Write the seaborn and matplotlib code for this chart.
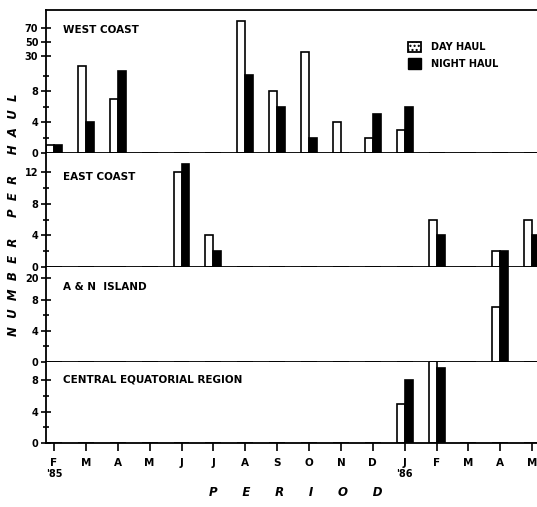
import numpy as np
import pandas as pd
import seaborn as sns
import matplotlib
matplotlib.use("Agg")
import matplotlib.pyplot as plt
from matplotlib.patches import Patch
from matplotlib.ticker import FixedLocator

# datos (numero por lance)
meses = ["F", "M", "A", "M", "J", "J", "A", "S", "O", "N", "D", "J", "F", "M", "A", "M"]
west_day = [1, 20, 7, 0, 0, 0, 80, 8, 35, 4, 2, 3, 0, 0, 0, 0]
west_night = [1, 4, 15, 0, 0, 0, 11, 6, 2, 0, 5, 6, 0, 0, 0, 0]
east_day = [0, 0, 0, 0, 12, 4, 0, 0, 0, 0, 0, 0, 6, 0, 2, 6]
east_night = [0, 0, 0, 0, 13, 2, 0, 0, 0, 0, 0, 0, 4, 0, 2, 4]
an_day = [0, 0, 0, 0, 0, 0, 0, 0, 0, 0, 0, 0, 0, 0, 7, 0]
an_night = [0, 0, 0, 0, 0, 0, 0, 0, 0, 0, 0, 0, 0, 0, 30, 0]
central_day = [0, 0, 0, 0, 0, 0, 0, 0, 0, 0, 0, 5, 12, 0, 0, 0]
central_night = [0, 0, 0, 0, 0, 0, 0, 0, 0, 0, 0, 8, 9.5, 0, 0, 0]

sns.set_style("ticks")
plt.rcParams["font.family"] = ["DejaVu Sans"]
plt.rcParams["font.weight"] = "bold"
plt.rcParams["text.color"] = "black"
plt.rcParams["xtick.color"] = "black"
plt.rcParams["ytick.color"] = "black"
plt.rcParams["axes.edgecolor"] = "black"

colores = {"DAY HAUL": "white", "NIGHT HAUL": "black"}


def tabla(dia, noche):
    n = len(meses)
    return pd.DataFrame({
        "mes": list(range(n)) * 2,
        "valor": dia + noche,
        "haul": ["DAY HAUL"] * n + ["NIGHT HAUL"] * n,
    })


def escala_rota(xp, fp):
    # eje "roto": tramo lineal y luego comprimido
    fwd = lambda v: np.interp(v, xp, fp)
    inv = lambda p: np.interp(p, fp, xp)
    return fwd, inv


paneles = [
    ("WEST COAST", west_day, west_night, 96, [0, 4, 8, 30, 50, 70], [2, 6, 10],
     ([-10, 10, 30, 70, 1000], [-10, 10, 12.6, 16.2, 16.2 + 930 * 0.09])),
    ("EAST COAST", east_day, east_night, 14.4, [0, 4, 8, 12], [2, 6, 10], None),
    ("A & N  ISLAND", an_day, an_night, 26.5, [0, 4, 8, 20], [2, 6],
     ([-10, 8, 1000], [-10, 8, 8 + 992 * 0.225])),
    ("CENTRAL EQUATORIAL REGION", central_day, central_night, 10.3, [0, 4, 8], [2, 6], None),
]

fig = plt.figure(figsize=(5.37, 5.07), dpi=100)
gs = fig.add_gridspec(4, 1, height_ratios=[143, 114, 95, 81], hspace=0,
                      left=46 / 537, right=1.0, top=1 - 10 / 507, bottom=1 - 443 / 507)

axes = []
for i, (nombre, dia, noche, ytop, mayores, menores, rota) in enumerate(paneles):
    ax = fig.add_subplot(gs[i], sharex=axes[0] if axes else None)
    axes.append(ax)
    sns.barplot(data=tabla(dia, noche), x="mes", y="valor", hue="haul",
                palette=colores, order=list(range(len(meses))), width=0.5,
                saturation=1, errorbar=None, edgecolor="black", linewidth=1.2,
                legend=False, ax=ax)
    if rota is not None:
        ax.set_yscale("function", functions=escala_rota(*rota))
    ax.set_ylim(0, ytop)
    ax.yaxis.set_major_locator(FixedLocator(mayores))
    ax.yaxis.set_minor_locator(FixedLocator(menores))
    ax.set_yticklabels([str(v) for v in mayores], fontsize=7, fontweight="bold")
    ax.tick_params(axis="y", which="major", direction="inout", length=7, width=1.2, pad=2)
    ax.tick_params(axis="y", which="minor", direction="inout", length=5, width=1.2)
    ax.set_xlabel("")
    ax.set_ylabel("")
    ax.spines["right"].set_visible(False)
    for s in ["left", "bottom", "top"]:
        ax.spines[s].set_linewidth(1.3)
    if i > 0:
        ax.spines["top"].set_visible(False)
    ax.text(0.035, 0.86 if i == 0 else 0.79, nombre, transform=ax.transAxes,
            fontsize=7.5, fontweight="bold", va="center", ha="left")
    if i < 3:
        ax.tick_params(axis="x", which="both", bottom=False, labelbottom=False)

ax_b = axes[-1]
ax_b.set_xlim(-0.25, 15.15)
ax_b.set_xticks(range(len(meses)))
ax_b.set_xticklabels(meses, fontsize=7.5, fontweight="bold")
ax_b.tick_params(axis="x", direction="out", length=6, width=1.2, pad=5)
ax_b.text(0, -0.38, "'85", transform=ax_b.get_xaxis_transform(),
          ha="center", va="center", fontsize=7, fontweight="bold")
ax_b.text(11, -0.38, "'86", transform=ax_b.get_xaxis_transform(),
          ha="center", va="center", fontsize=7, fontweight="bold")

fig.text(0.55, 1 - 492 / 507, "P      E      R      I      O      D", ha="center", va="center",
         fontsize=8.5, fontweight="bold", style="italic")
fig.text(14 / 537, 1 - 215 / 507, "N  U  M  B  E  R     P  E  R     H  A  U  L", ha="center",
         va="center", rotation=90, fontsize=8.5, fontweight="bold", style="italic")

manijas = [Patch(facecolor="white", edgecolor="black", linewidth=1.3, hatch="....", label="DAY HAUL"),
           Patch(facecolor="black", edgecolor="black", label="NIGHT HAUL")]
axes[0].legend(handles=manijas, loc="upper left", bbox_to_anchor=(0.72, 0.84),
               frameon=False, fontsize=7, handlelength=1.3, handleheight=1.3,
               labelspacing=0.6, handletextpad=1.0)

plt.savefig("out.png", dpi=100)
